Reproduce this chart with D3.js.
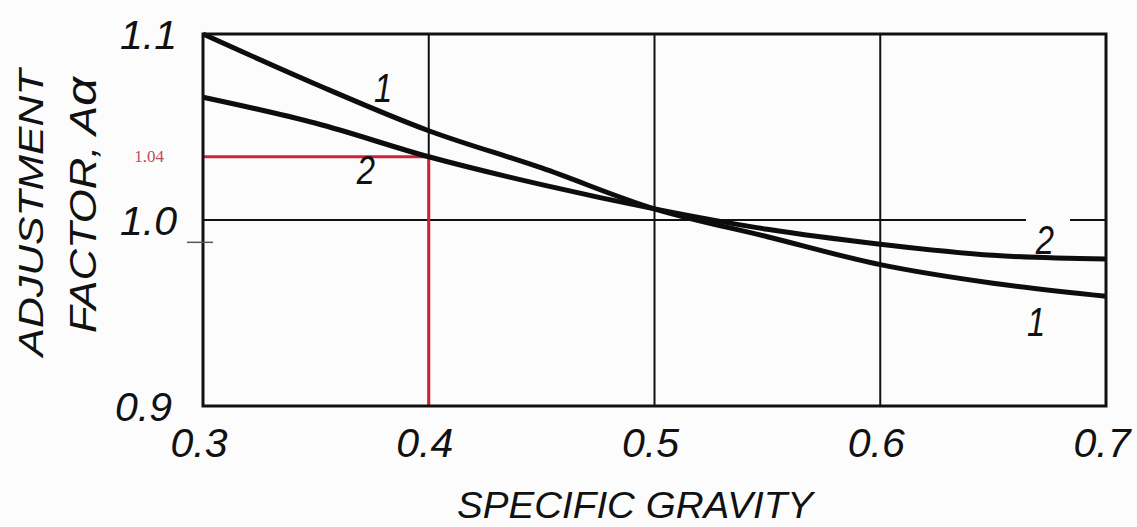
<!DOCTYPE html>
<html>
<head>
<meta charset="utf-8">
<script src="https://cdn.jsdelivr.net/npm/d3@7"></script>
<style>
    body { margin: 0; background: #fcfcfc; }
    svg { display: block; }
    .hand { font-family: "Liberation Sans", Arial, sans-serif; font-style: italic; fill: #111; }
</style>
</head>
<body>
<svg id="chart" width="1137" height="527"></svg>
<script>
// Data
const gravity = [0.3, 0.35, 0.4, 0.45, 0.5, 0.55, 0.6, 0.65, 0.7];
const curve1 = [1.1, 1.073, 1.048, 1.028, 1.006, 0.991, 0.976, 0.966, 0.959];
const curve2 = [1.066, 1.052, 1.034, 1.019, 1.006, 0.995, 0.987, 0.981, 0.979];
const xTicks = [0.3, 0.4, 0.5, 0.6, 0.7];
const yTicks = [0.9, 1.0, 1.1];
const yTickLabels = ['0.9', '1.0', '1.1'];
const refX = 0.4;          // red reading line
const refY = 1.034;        // where it is drawn
const refLabel = '1.04';   // what it says
const strayTick = 0.988;   // little dash on the left axis

const X0 = 0.3, X1 = 0.7, Y0 = 0.9, Y1 = 1.1;

const svg = d3.select('#chart');
const x = d3.scaleLinear().domain([X0, X1]).range([203, 1106]);
const y = d3.scaleLinear().domain([Y0, Y1]).range([406, 34]);

// Grid lines
svg.append('g')
    .selectAll('line')
    .data(xTicks.slice(1, -1))
    .join('line')
        .attr('x1', (d) => x(d)).attr('x2', (d) => x(d))
        .attr('y1', y(Y1)).attr('y2', y(Y0))
        .attr('stroke', '#111').attr('stroke-width', 2);

svg.append('line')
    .attr('x1', x(X0)).attr('x2', x(X1))
    .attr('y1', y(1.0)).attr('y2', y(1.0))
    .attr('stroke', '#111').attr('stroke-width', 2);

// Red reading lines
svg.append('path')
    .attr('d', 'M' + x(X0) + ',' + y(refY) + 'H' + x(refX) + 'V' + y(Y0))
    .attr('fill', 'none')
    .attr('stroke', '#d42034')
    .attr('stroke-width', 3);

svg.append('text')
    .attr('x', 164).attr('y', y(refY) + 5)
    .attr('text-anchor', 'end')
    .attr('font-family', '"Liberation Serif", "Times New Roman", serif')
    .attr('font-size', 17)
    .attr('fill', '#c24a60')
    .text(refLabel);

// Curves
const line = d3.line()
    .x((d) => x(d[0]))
    .y((d) => y(d[1]))
    .curve(d3.curveMonotoneX);

[curve1, curve2].forEach((vals) => {
    svg.append('path')
        .datum(gravity.map((g, i) => [g, vals[i]]))
        .attr('d', line)
        .attr('fill', 'none')
        .attr('stroke', '#0d0d0d')
        .attr('stroke-width', 5)
        .attr('stroke-linejoin', 'round');
});

// Frame
svg.append('rect')
    .attr('x', x(X0)).attr('y', y(Y1))
    .attr('width', x(X1) - x(X0)).attr('height', y(Y0) - y(Y1))
    .attr('fill', 'none')
    .attr('stroke', '#111')
    .attr('stroke-width', 3);

svg.append('line')
    .attr('x1', x(X0) - 16).attr('x2', x(X0) + 10)
    .attr('y1', y(strayTick)).attr('y2', y(strayTick))
    .attr('stroke', '#555').attr('stroke-width', 1.5);

// Curve numbers (the right "2" breaks the 1.0 grid line)
svg.append('rect')
    .attr('x', 1026).attr('y', y(1.0) - 6)
    .attr('width', 44).attr('height', 12)
    .attr('fill', '#fcfcfc');

const curveLabels = [
    { t: '1', cx: 383, cy: 102 },
    { t: '2', cx: 366, cy: 184 },
    { t: '2', cx: 1045, cy: 254 },
    { t: '1', cx: 1036, cy: 336 }
];
svg.append('g')
    .selectAll('text')
    .data(curveLabels)
    .join('text')
        .attr('class', 'hand')
        .attr('x', (d) => d.cx).attr('y', (d) => d.cy)
        .attr('text-anchor', 'middle')
        .attr('font-size', 41)
        .attr('transform', (d) => 'translate(' + d.cx + ',' + d.cy + ') scale(0.8,1) translate(' + (-d.cx) + ',' + (-d.cy) + ')')
        .text((d) => d.t);

// Tick labels
svg.append('g')
    .selectAll('text')
    .data(xTicks)
    .join('text')
        .attr('class', 'hand')
        .attr('x', (d) => x(d) - 4)
        .attr('y', 457)
        .attr('text-anchor', 'middle')
        .attr('font-size', 41)
        .text((d) => d3.format('.1f')(d));

svg.append('g')
    .selectAll('text')
    .data(yTicks)
    .join('text')
        .attr('class', 'hand')
        .attr('x', (d, i) => i === 0 ? 172 : 177)
        .attr('y', (d) => y(d) + 15)
        .attr('text-anchor', 'end')
        .attr('font-size', 41)
        .text((d, i) => yTickLabels[i]);

// Axis titles
svg.append('text')
    .attr('class', 'hand')
    .attr('x', 635).attr('y', 518)
    .attr('text-anchor', 'middle')
    .attr('font-size', 36)
    .attr('textLength', 356)
    .attr('lengthAdjust', 'spacingAndGlyphs')
    .text('SPECIFIC  GRAVITY');

svg.append('text')
    .attr('class', 'hand')
    .attr('transform', 'translate(43,213) rotate(-90)')
    .attr('text-anchor', 'middle')
    .attr('font-size', 35)
    .attr('textLength', 287)
    .attr('lengthAdjust', 'spacingAndGlyphs')
    .text('ADJUSTMENT');

const t2 = svg.append('text')
    .attr('class', 'hand')
    .attr('transform', 'translate(96,205) rotate(-90)')
    .attr('text-anchor', 'middle')
    .attr('font-size', 36)
    .attr('textLength', 256)
    .attr('lengthAdjust', 'spacingAndGlyphs');
t2.append('tspan').text('FACTOR, A');
t2.append('tspan').attr('font-size', 42).text('α');
</script>
</body>
</html>
